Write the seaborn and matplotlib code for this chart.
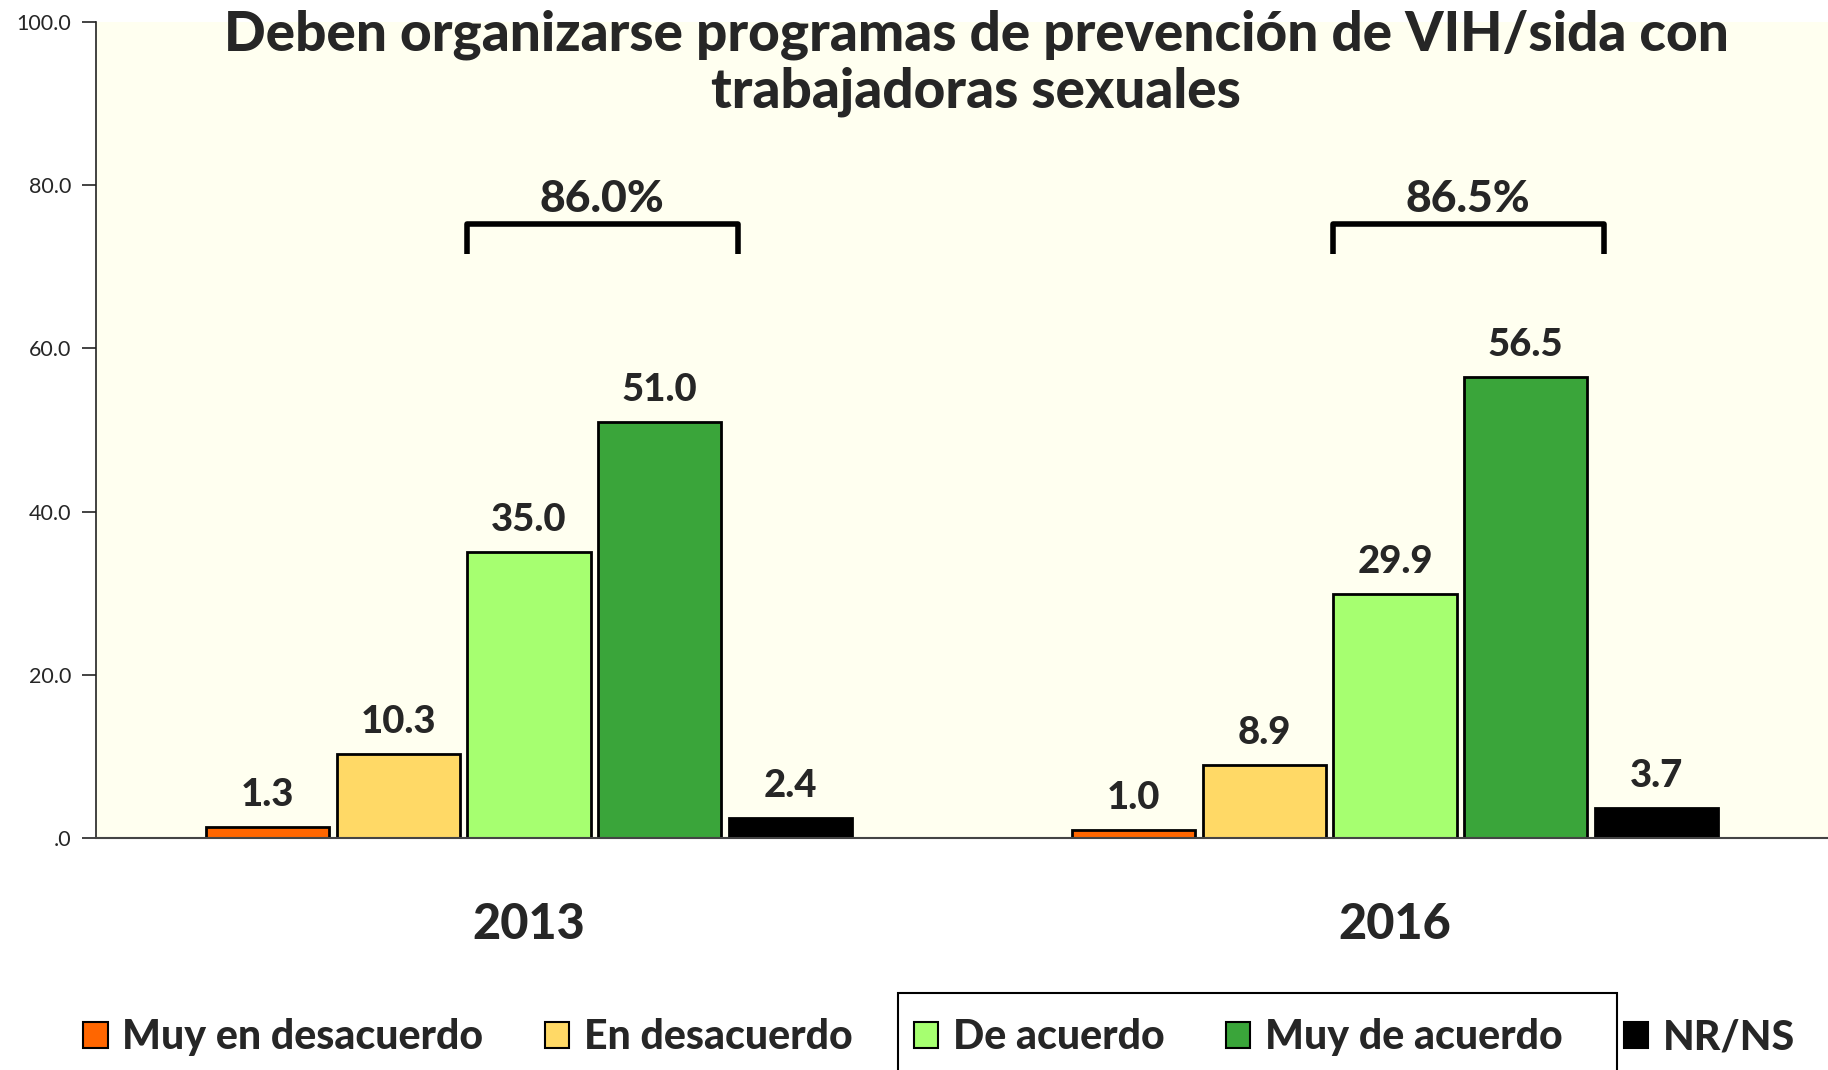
import matplotlib
matplotlib.use("Agg")
import matplotlib.pyplot as plt
import seaborn as sns
import pandas as pd
from matplotlib.patches import Patch, Rectangle

years = ["2013", "2016"]
categories = ["Muy en desacuerdo", "En desacuerdo", "De acuerdo", "Muy de acuerdo", "NR/NS"]
values_2013 = [1.3, 10.3, 35.0, 51.0, 2.4]
values_2016 = [1.0, 8.9, 29.9, 56.5, 3.7]
totals = ["86.0%", "86.5%"]
colors = ["#FF6600", "#FFD966", "#A6FF70", "#3AA53A", "#000000"]
title = "Deben organizarse programas de prevención de VIH/sida con\ntrabajadoras sexuales"
yticks = [0, 20, 40, 60, 80, 100]
ytick_labels = [".0", "20.0", "40.0", "60.0", "80.0", "100.0"]

rows = []
for y, vals in zip(years, [values_2013, values_2016]):
    for c, v in zip(categories, vals):
        rows.append({"year": y, "cat": c, "value": v})
df = pd.DataFrame(rows)

sns.set_style("white")
plt.rcParams["font.family"] = ["Lato", "DejaVu Sans"]
HW = "black"

fig = plt.figure(figsize=(18.28, 10.70), dpi=100)
ax = fig.add_axes([0.0525, 0.2168, 0.9475, 0.7626])
ax.set_facecolor("#FFFFF0")

sns.barplot(data=df, x="year", y="value", hue="cat", hue_order=categories,
            palette=colors, width=0.755, gap=0.057, edgecolor="black",
            linewidth=2, ax=ax, legend=False, saturation=1)

for cont in ax.containers:
    ax.bar_label(cont, fmt="%.1f", padding=11, fontsize=27.5, fontweight=HW)

ax.set_ylim(0, 100)
ax.set_xlim(-0.5, 1.482)
ax.set_yticks(yticks)
ax.set_yticklabels(ytick_labels, fontsize=15.5)
ax.set_xticks([0, 1])
ax.set_xticklabels(years, fontsize=35, fontweight=HW)
ax.set_xticks([-0.5, 0.5, 1.5], minor=True)
ax.tick_params(axis="x", which="major", length=0, pad=46)
ax.tick_params(axis="x", which="minor", length=12, width=1.2, color="#222222", direction="out")
ax.tick_params(axis="y", length=10, width=1.2, color="#222222", direction="out", pad=8, left=True)
ax.set_xlabel("")
ax.set_ylabel("")
for s in ["top", "right"]:
    ax.spines[s].set_visible(False)
ax.spines["left"].set_color("#222222")
ax.spines["bottom"].set_color("#444444")
ax.spines["left"].set_linewidth(1.2)
ax.spines["bottom"].set_linewidth(1.5)

# brackets over agreement bars
for i, t in enumerate(totals):
    x0 = i - 0.072
    x1 = i + 0.241
    ax.plot([x0, x0, x1, x1], [71.6, 75.3, 75.3, 71.6], color="black", lw=4,
            solid_joinstyle="round", solid_capstyle="butt", clip_on=False)
    ax.text((x0 + x1) / 2, 78.3, t, ha="center", va="center", fontsize=32, fontweight=HW)

fig.text(0.534, 0.941, title, ha="center", va="center", fontsize=39.5,
         fontweight=HW, linespacing=1.17)

handles = [Patch(facecolor=c, edgecolor="black", linewidth=1.5) for c in colors]
fig.legend(handles, categories, ncol=5, frameon=False, loc="center",
           bbox_to_anchor=(0.5137, 0.0305),
           prop={"weight": HW, "size": 29.5},
           handlelength=0.6, handleheight=0.6, handletextpad=0.35,
           columnspacing=1.5)

fig.patches.append(Rectangle((0.491, -0.02), 0.3936, 0.092, transform=fig.transFigure,
                             fill=False, edgecolor="black", linewidth=1.5))

fig.savefig("out.png", dpi=100, facecolor="white")
